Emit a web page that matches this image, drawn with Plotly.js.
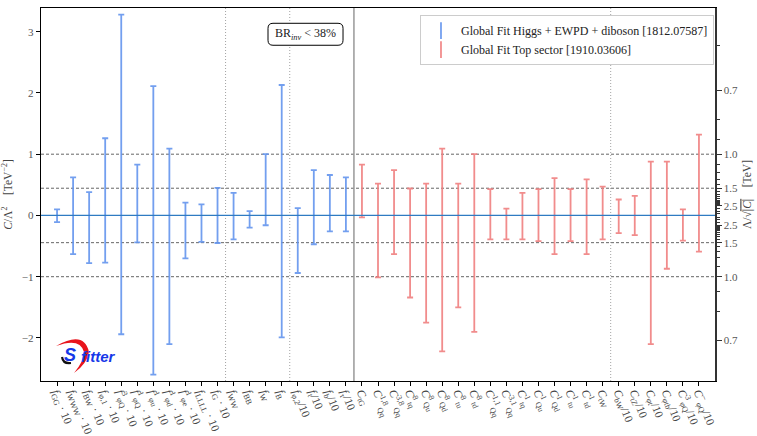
<!DOCTYPE html>
<html><head><meta charset="utf-8">
<script src="https://cdn.plot.ly/plotly-3.0.1.min.js"></script>
<style>html,body{margin:0;padding:0;background:#fff}</style>
</head><body><div id="chart" style="width:757px;height:436px"></div>
<script>
// ---- data ----
const blueLabels = [
  "<i>f</i><sub>GG</sub> · 10", "<i>f</i><sub>WWW</sub> · 10", "<i>f</i><sub>BW</sub> · 10",
  "<i>f</i><sub>φ,1</sub> · 10", "<i>f</i><sup>3</sup><sub>φQ</sub> · 10", "<i>f</i><sup>1</sup><sub>φQ</sub> · 10",
  "<i>f</i><sup>1</sup><sub>φu</sub> · 10", "<i>f</i><sup>1</sup><sub>φd</sub> · 10", "<i>f</i><sup>1</sup><sub>φe</sub> · 10",
  "<i>f</i><sub>LLLL</sub> · 10", "<i>f</i><sub>G</sub> · 10", "<i>f</i><sub>WW</sub>", "<i>f</i><sub>BB</sub>",
  "<i>f</i><sub>W</sub>", "<i>f</i><sub>B</sub>", "<i>f</i><sub>φ,2</sub>/10", "<i>f</i><sub>t</sub>/10",
  "<i>f</i><sub>b</sub>/10", "<i>f</i><sub>τ</sub>/10"
];
const blueLow  = [-0.11, -0.63, -0.78, -0.77, -1.94, -0.44, -2.60, -2.10, -0.70, -0.43,
                  -0.45, -0.39, -0.20, -0.16, -1.99, -0.94, -0.47, -0.26, -0.26];
const blueHigh = [ 0.10,  0.62,  0.38,  1.26,  3.28,  0.83,  2.11,  1.09,  0.21,  0.18,
                   0.45,  0.37,  0.07,  1.00,  2.13,  0.12,  0.74,  0.66,  0.62];

const redLabels = [
  "<i>C</i><sub>tG</sub>",
  "<i>C</i><sup>1,8</sup><sub>Qq</sub>", "<i>C</i><sup>3,8</sup><sub>Qq</sub>", "<i>C</i><sup>8</sup><sub>tq</sub>",
  "<i>C</i><sup>8</sup><sub>Qu</sub>", "<i>C</i><sup>8</sup><sub>Qd</sub>", "<i>C</i><sup>8</sup><sub>tu</sub>",
  "<i>C</i><sup>8</sup><sub>td</sub>",
  "<i>C</i><sup>1,1</sup><sub>Qq</sub>", "<i>C</i><sup>3,1</sup><sub>Qq</sub>", "<i>C</i><sup>1</sup><sub>tq</sub>",
  "<i>C</i><sup>1</sup><sub>Qu</sub>", "<i>C</i><sup>1</sup><sub>Qd</sub>", "<i>C</i><sup>1</sup><sub>tu</sub>",
  "<i>C</i><sup>1</sup><sub>td</sub>", "<i>C</i><sub>tW</sub>",
  "<i>C</i><sub>bW</sub>/10", "<i>C</i><sub>tZ</sub>/10", "<i>C</i><sub>φt</sub>/10", "<i>C</i><sub>φtb</sub>/10",
  "<i>C</i><sup>3</sup><sub>φQ</sub>/10", "<i>C</i><sup>−</sup><sub>φQ</sub>/10"
];
const redLow  = [-0.03, -1.01, -0.63, -1.34, -1.75, -2.22, -1.50, -1.90, -0.39, -0.39, -0.39,
                 -0.42, -0.63, -0.42, -0.63, -0.39, -0.29, -0.32, -2.10, -0.87, -0.41, -0.59];
const redHigh = [ 0.83,  0.52,  0.74,  0.44,  0.52,  1.09,  0.52,  1.00,  0.43,  0.11,  0.37,
                  0.43,  0.61,  0.43,  0.59,  0.47,  0.26,  0.32,  0.88,  0.88,  0.10,  1.32];

const lambdaMajor = [0.7, 1.0, 1.5, 2.5];           // right axis labels (TeV)
const lambdaMinor = [0.6, 0.8, 0.9, 1.1, 1.2, 1.3, 1.4, 1.6, 1.7, 1.8, 1.9, 2.0, 2.1, 2.2, 2.3, 2.4, 3, 4, 5];
const lambdaDashed = [1.0, 1.5];                    // dashed reference lines
const dottedSeparators = [10.5, 14.5, 34.5];
const sectorSeparator = 18.5;

// ---- build ----
const labels = blueLabels.concat(redLabels);
const xs = labels.map((_, i) => i);
const blueX = blueLabels.map((_, i) => i);
const redX = redLabels.map((_, i) => i + blueLabels.length);
const mid = (lo, hi) => lo.map((v, i) => (v + hi[i]) / 2);
const blueMid = mid(blueLow, blueHigh), redMid = mid(redLow, redHigh);

const BLUE = 'rgba(100,149,237,0.9)', RED = 'rgba(240,128,128,0.9)';
const serif = 'Liberation Serif, DejaVu Serif, serif';

function errTrace(x, m, lo, hi, color) {
  return {
    x: x, y: m, type: 'scatter', mode: 'markers', showlegend: false, hoverinfo: 'skip',
    marker: {size: 1, opacity: 0, color: color},
    error_y: {type: 'data', symmetric: false,
      array: hi.map((v, i) => v - m[i]), arrayminus: lo.map((v, i) => m[i] - v),
      color: color, thickness: 1.8, width: 3}
  };
}
function legendTrace(name, color) {
  return {x: [null], y: [null], type: 'scatter', mode: 'markers', name: name, hoverinfo: 'skip',
    marker: {symbol: 'line-ns-open', size: 12, color: color, line: {width: 1.8, color: color}}};
}

const traces = [
  errTrace(blueX, blueMid, blueLow, blueHigh, BLUE),
  errTrace(redX, redMid, redLow, redHigh, RED),
  legendTrace('Global Fit Higgs + EWPD + diboson [1812.07587]', BLUE),
  legendTrace('Global Fit Top sector [1910.03606]', RED),
  {x: [null], y: [null], yaxis: 'y2', type: 'scatter', mode: 'markers', showlegend: false, hoverinfo: 'skip'}
];

const yRange = [-2.703, 3.387];
const xRange = [-1, labels.length];
const toC = l => 1 / (l * l);
const majVals = [], majText = [];
lambdaMajor.forEach(l => { majVals.push(toC(l), -toC(l)); majText.push(l.toFixed(1), l.toFixed(1)); });
const minVals = [];
lambdaMinor.forEach(l => { minVals.push(toC(l), -toC(l)); });

const shapes = [];
lambdaDashed.forEach(l => {
  [toC(l), -toC(l)].forEach(c => shapes.push({type: 'line', xref: 'paper', x0: 0, x1: 1, yref: 'y', y0: c, y1: c,
    line: {color: '#555', width: 0.9, dash: '3px,2px'}, layer: 'below'}));
});
dottedSeparators.forEach(xv => shapes.push({type: 'line', xref: 'x', x0: xv, x1: xv, yref: 'paper', y0: 0, y1: 1,
  line: {color: '#999', width: 0.9, dash: '1px,2px'}, layer: 'below'}));
shapes.push({type: 'line', xref: 'x', x0: sectorSeparator, x1: sectorSeparator, yref: 'paper', y0: 0, y1: 1,
  line: {color: '#999', width: 1.5}, layer: 'below'});
shapes.push({type: 'line', xref: 'paper', x0: 0, x1: 1, yref: 'y', y0: 0, y1: 0,
  line: {color: '#2f7bc2', width: 1.3}, layer: 'above'});

// decorations in pixel space -> paper coords
const PL = 41, PR = 715, PT = 7.7, PB = 381;
const px = X => +((X - PL) / (PR - PL)).toFixed(4);
const py = Y => +((PB - Y) / (PB - PT)).toFixed(4);
function path(cmds) {
  return cmds.map(c => c[0] + ' ' + c.slice(1).map((v, i) => (i % 2 === 0 ? px(v) : py(v))).join(' ')).join(' ');
}
// rounded box for BR annotation
const bx0 = 268, bx1 = 343, by0 = 23, by1 = 45, r = 5;
shapes.push({type: 'path', xref: 'paper', yref: 'paper', line: {color: '#000', width: 1}, fillcolor: '#fff',
  path: path([['M', bx0 + r, by0], ['L', bx1 - r, by0], ['Q', bx1, by0, bx1, by0 + r], ['L', bx1, by1 - r],
    ['Q', bx1, by1, bx1 - r, by1], ['L', bx0 + r, by1], ['Q', bx0, by1, bx0, by1 - r], ['L', bx0, by0 + r],
    ['Q', bx0, by0, bx0 + r, by0]]) + ' Z'});
// logo swoosh (red crescent) and dark arrow stroke
shapes.push({type: 'path', xref: 'paper', yref: 'paper', line: {width: 0}, fillcolor: '#e8141c',
  path: path([['M', 56, 346], ['Q', 84, 330, 89, 352], ['Q', 87, 364, 74, 373], ['Q', 84, 361, 84, 352], ['Q', 80, 337, 56, 346]]) + ' Z'});
shapes.push({type: 'path', xref: 'paper', yref: 'paper', line: {color: '#111', width: 2.2},
  path: path([['M', 62, 357], ['Q', 63, 364, 71, 363]])});

const layout = {
  width: 757, height: 436,
  margin: {l: PL, r: 757 - PR, t: PT, b: 436 - PB},
  paper_bgcolor: '#fff', plot_bgcolor: '#fff',
  font: {family: serif, color: '#333', size: 11},
  showlegend: true,
  legend: {x: 0.9985, y: 0.981, xanchor: 'right', yanchor: 'top', bgcolor: '#fff', bordercolor: '#ccc', borderwidth: 1,
    font: {family: serif, size: 12, color: '#222'}, tracegroupgap: 0},
  xaxis: {range: xRange, tickmode: 'array', tickvals: xs, ticktext: labels, tickangle: 68, ticklabelstandoff: -5,
    showgrid: false, zeroline: false, showline: true, mirror: true, linecolor: '#000', linewidth: 1.3,
    ticks: 'outside', ticklen: 4, tickcolor: '#000', tickfont: {family: serif, size: 11.5, color: '#444'}},
  yaxis: {range: yRange, tickmode: 'array', tickvals: [-2, -1, 0, 1, 2, 3], ticktext: ['−2', '−1', '0', '1', '2', '3'],
    showgrid: false, zeroline: false, showline: true, linecolor: '#000', linewidth: 1.3,
    ticks: 'outside', ticklen: 4, tickcolor: '#000', tickfont: {family: serif, size: 11, color: '#555'},
    title: {text: '<i>C</i>/Λ<sup>2</sup>    [TeV<sup>−2</sup>]', standoff: 8, font: {family: serif, size: 11.5, color: '#444'}}},
  yaxis2: {overlaying: 'y', side: 'right', range: yRange, tickmode: 'array', tickvals: majVals, ticktext: majText,
    showgrid: false, zeroline: false, showline: true, linecolor: '#333', linewidth: 1.6,
    ticks: 'outside', ticklen: 5, tickcolor: '#333', tickfont: {family: serif, size: 11, color: '#555'},
    minor: {tickmode: 'array', tickvals: minVals, ticks: 'outside', ticklen: 3, tickcolor: '#333', showgrid: false},
    title: {text: 'Λ/√<span style="text-decoration:overline">|<i>C</i>|</span>    [TeV]', standoff: 6,
      font: {family: serif, size: 11.5, color: '#444'}}},
  shapes: shapes,
  annotations: [
    {xref: 'paper', yref: 'paper', x: px((bx0 + bx1) / 2), y: py((by0 + by1) / 2), xanchor: 'center', yanchor: 'middle',
      showarrow: false, text: 'BR<sub><i>inv</i></sub> &lt; 38%', font: {family: serif, size: 12, color: '#222'}},
    {xref: 'paper', yref: 'paper', x: px(70), y: py(355), xanchor: 'center', yanchor: 'middle', showarrow: false,
      text: '<b><i>S</i></b>', font: {family: 'Liberation Sans, Arial, sans-serif', size: 18, color: '#1538e8'}},
    {xref: 'paper', yref: 'paper', x: px(79), y: py(356), xanchor: 'left', yanchor: 'middle', showarrow: false,
      text: '<b><i>fitter</i></b>', font: {family: 'Liberation Sans, Arial, sans-serif', size: 15, color: '#1538e8'}}
  ]
};

Plotly.newPlot('chart', traces, layout, {displayModeBar: false, staticPlot: true});
</script></body></html>
